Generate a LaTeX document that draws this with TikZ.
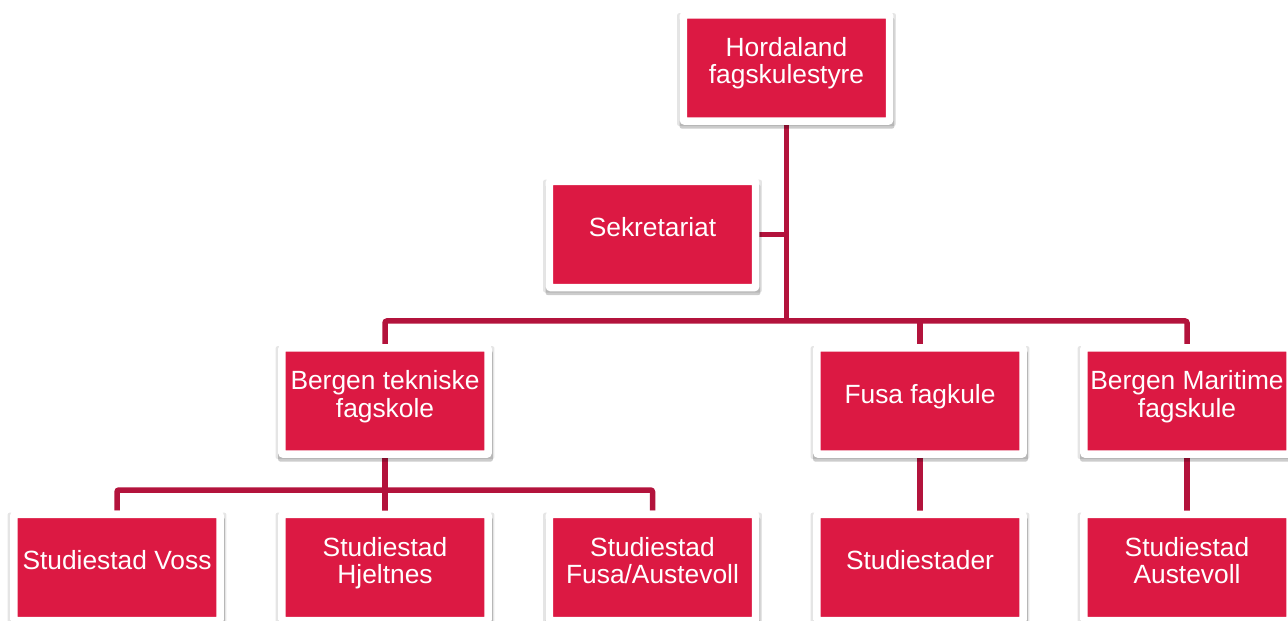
\documentclass[tikz,border=0pt]{standalone}
\usepackage{fontspec}
\setmainfont{Liberation Sans}
\usetikzlibrary{positioning, calc, shadows, backgrounds}
\usepackage{xcolor}
\definecolor{xred}{HTML}{DC1943}
\definecolor{xline}{HTML}{B3133C}
\tikzset{
	orgbox/.style={
		rectangle, fill=xred, draw=white, line width=0.15cm, rounded corners=0.04cm,
		minimum width=4.13cm, minimum height=2.13cm, inner sep=0pt,
		text=white, align=center, font=\fontsize{15pt}{15.6pt}\selectfont,
		drop shadow={shadow xshift=0cm, shadow yshift=-0.03cm, shadow scale=1.06, opacity=0.1, fill=black},
		drop shadow={shadow xshift=0.01cm, shadow yshift=-0.1cm, shadow scale=1.04, opacity=0.2, fill=black},
		execute at end node={\rule[-0.29cm]{0pt}{0.29cm}},
	},
	link/.style={draw=xline, line width=0.11cm, rounded corners=0.04cm},
}
\begin{document}
\begin{tikzpicture}[x=0.02cm, y=-0.02cm]
		\useasboundingbox (0,0) rectangle (1288,621);
		\coordinate (bus) at (0,321);
		\coordinate (subbus) at (0,490);

		\node[orgbox] (styre) at (786.5,68) {Hordaland\\fagskulestyre};
		\node[orgbox] (sekr) at (652.5,234.5) {Sekretariat};
		\node[orgbox] (btf) at (385,401) {Bergen tekniske\\fagskole};
		\node[orgbox] (fusa) at (920,401) {Fusa fagkule};
		\node[orgbox] (bmf) at (1187,401) {Bergen Maritime\\fagskule};
		\node[orgbox] (voss) at (117,567.5) {Studiestad Voss};
		\node[orgbox] (hjelt) at (385,567.5) {Studiestad\\Hjeltnes};
		\node[orgbox] (fusaaust) at (652.5,567.5) {Studiestad\\Fusa/Austevoll};
		\node[orgbox] (stader) at (920,567.5) {Studiestader};
		\node[orgbox] (austev) at (1187,567.5) {Studiestad\\Austevoll};

		\begin{scope}[on background layer]
			\draw[link] (styre.south) -- (styre.south |- bus);
			\draw[link] (sekr.east) -- (sekr.east -| styre.south);
			\draw[link] (btf.north) -- (btf.north |- bus) -- (bmf.north |- bus) -- (bmf.north);
			\draw[link] (fusa.north) -- (fusa.north |- bus);
			\draw[link] (voss.north) -- (voss.north |- subbus) -- (fusaaust.north |- subbus) -- (fusaaust.north);
			\draw[link] (btf.south) -- (hjelt.north);
			\draw[link] (fusa.south) -- (stader.north);
			\draw[link] (bmf.south) -- (austev.north);
		\end{scope}
	\end{tikzpicture}
\end{document}
